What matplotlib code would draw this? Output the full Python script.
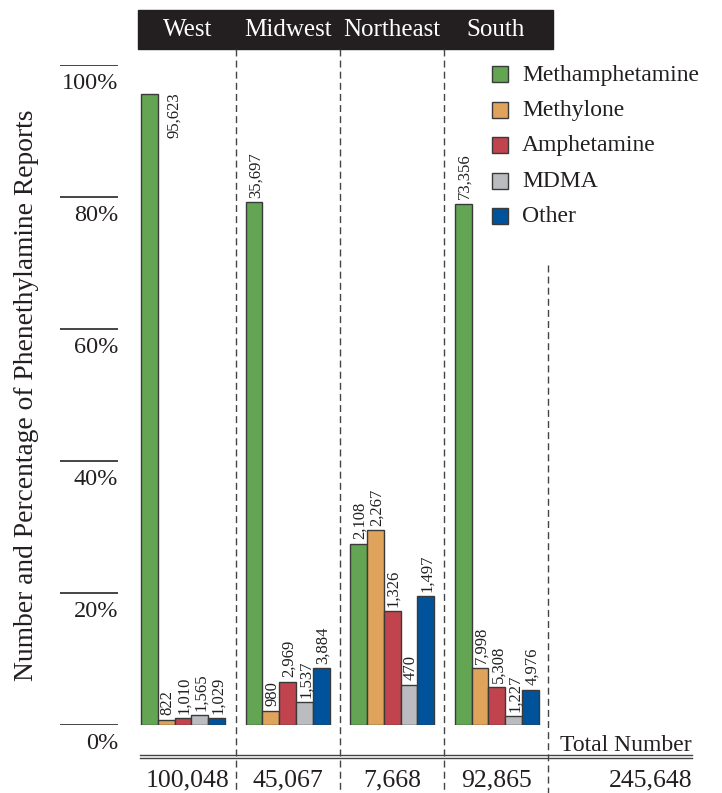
import numpy as np
import matplotlib
matplotlib.use('Agg')
import matplotlib.pyplot as plt
from matplotlib.patches import Rectangle

plt.rcParams['font.family'] = ['Liberation Serif', 'DejaVu Serif']

# дані
regions = ['West', 'Midwest', 'Northeast', 'South']
drugs = ['Methamphetamine', 'Methylone', 'Amphetamine', 'MDMA', 'Other']
colors = ['#63a552', '#dfa35c', '#c0434d', '#bbbcc0', '#00539b']
counts = {
    'West':      [95623, 822, 1010, 1565, 1029],
    'Midwest':   [35697, 980, 2969, 1537, 3884],
    'Northeast': [2108, 2267, 1326, 470, 1497],
    'South':     [73356, 7998, 5308, 1227, 4976],
}
totals = [100048, 45067, 7668, 92865]
grand_total = 245648
yticks = [0, 20, 40, 60, 80, 100]

# розмітка (пікселі)
W, H = 722, 793
y0, y100 = 725, 65
group_left = 141
group_step = 104.6
bar_w = 16.8
dividers = [236, 340, 444, 548]
col_centers = [188, 288, 392, 496]
txt = '#231f20'

fig = plt.figure(figsize=(W / 100, H / 100), dpi=100)

ax = fig.add_axes([0, (H - y0) / H, 1, (y0 - y100) / H])
ax.set_xlim(0, W)
ax.set_ylim(0, 100)
ax.axis('off')

ov = fig.add_axes([0, 0, 1, 1], zorder=-1)
ov.set_xlim(0, W)
ov.set_ylim(H, 0)
ov.axis('off')

# шкала
ax.hlines(yticks, 60, 118, color='#444444', lw=1.4)
for t in yticks:
    ax.annotate(f'{t}%', (118, t), xytext=(0, -5.5), textcoords='offset points',
                ha='right', va='top', fontsize=17.5, color=txt)

ax.text(27, 50, 'Number and Percentage of Phenethylamine Reports', rotation=90,
        ha='center', va='center', fontsize=19.8, color=txt)

# стовпчики
for g, reg in enumerate(regions):
    vals = np.array(counts[reg])
    pct = vals / totals[g] * 100
    xs = group_left + g * group_step + np.arange(len(vals)) * bar_w
    ax.bar(xs, pct, width=bar_w, align='edge', color=colors,
           edgecolor='#3a3a3a', lw=1)
    for x, p, c in zip(xs, pct, vals):
        if p > 90:
            ax.annotate(f'{c:,}', (x + bar_w, p), xytext=(11.5, 1),
                        textcoords='offset points', rotation=90,
                        ha='center', va='top', fontsize=12, color=txt)
        else:
            ax.annotate(f'{c:,}', (x + bar_w / 2, p), xytext=(1, 3),
                        textcoords='offset points', rotation=90,
                        ha='center', va='bottom', fontsize=12, color=txt)

# заголовок
ov.add_patch(Rectangle((138, 10), 553 - 138, 39, color='#231f20'))
for reg, cx in zip(regions, col_centers):
    ov.text(cx, 30, reg, ha='center', va='center', fontsize=18, color='white')

# пунктирні розділювачі
for d in dividers[:3]:
    ov.plot([d, d], [49, H], ls=(0, (5, 3)), color='#444444', lw=1)
ov.plot([dividers[3]] * 2, [265, H], ls=(0, (5, 3)), color='#444444', lw=1)

# подвійна лінія та підсумки
ov.plot([140, 692], [754.5, 754.5], color='#444444', lw=1)
ov.plot([140, 692], [758, 758], color='#444444', lw=1)
ov.text(692, 751, 'Total Number', ha='right', va='baseline', fontsize=17, color=txt)
for tot, cx in zip(totals, col_centers):
    ov.text(cx, 786, f'{tot:,}', ha='center', va='baseline', fontsize=18.5, color=txt)
ov.text(692, 786, f'{grand_total:,}', ha='right', va='baseline', fontsize=18.5, color=txt)

# легенда
for k, (name, col) in enumerate(zip(drugs, colors)):
    cy = 74 + k * 35.5
    ov.add_patch(Rectangle((492, cy - 8), 16, 16, facecolor=col,
                           edgecolor='#3a3a3a', lw=1))
    ov.text(522, cy + 1, name, ha='left', va='center', fontsize=17, color=txt)

fig.savefig('out.png', dpi=100)
